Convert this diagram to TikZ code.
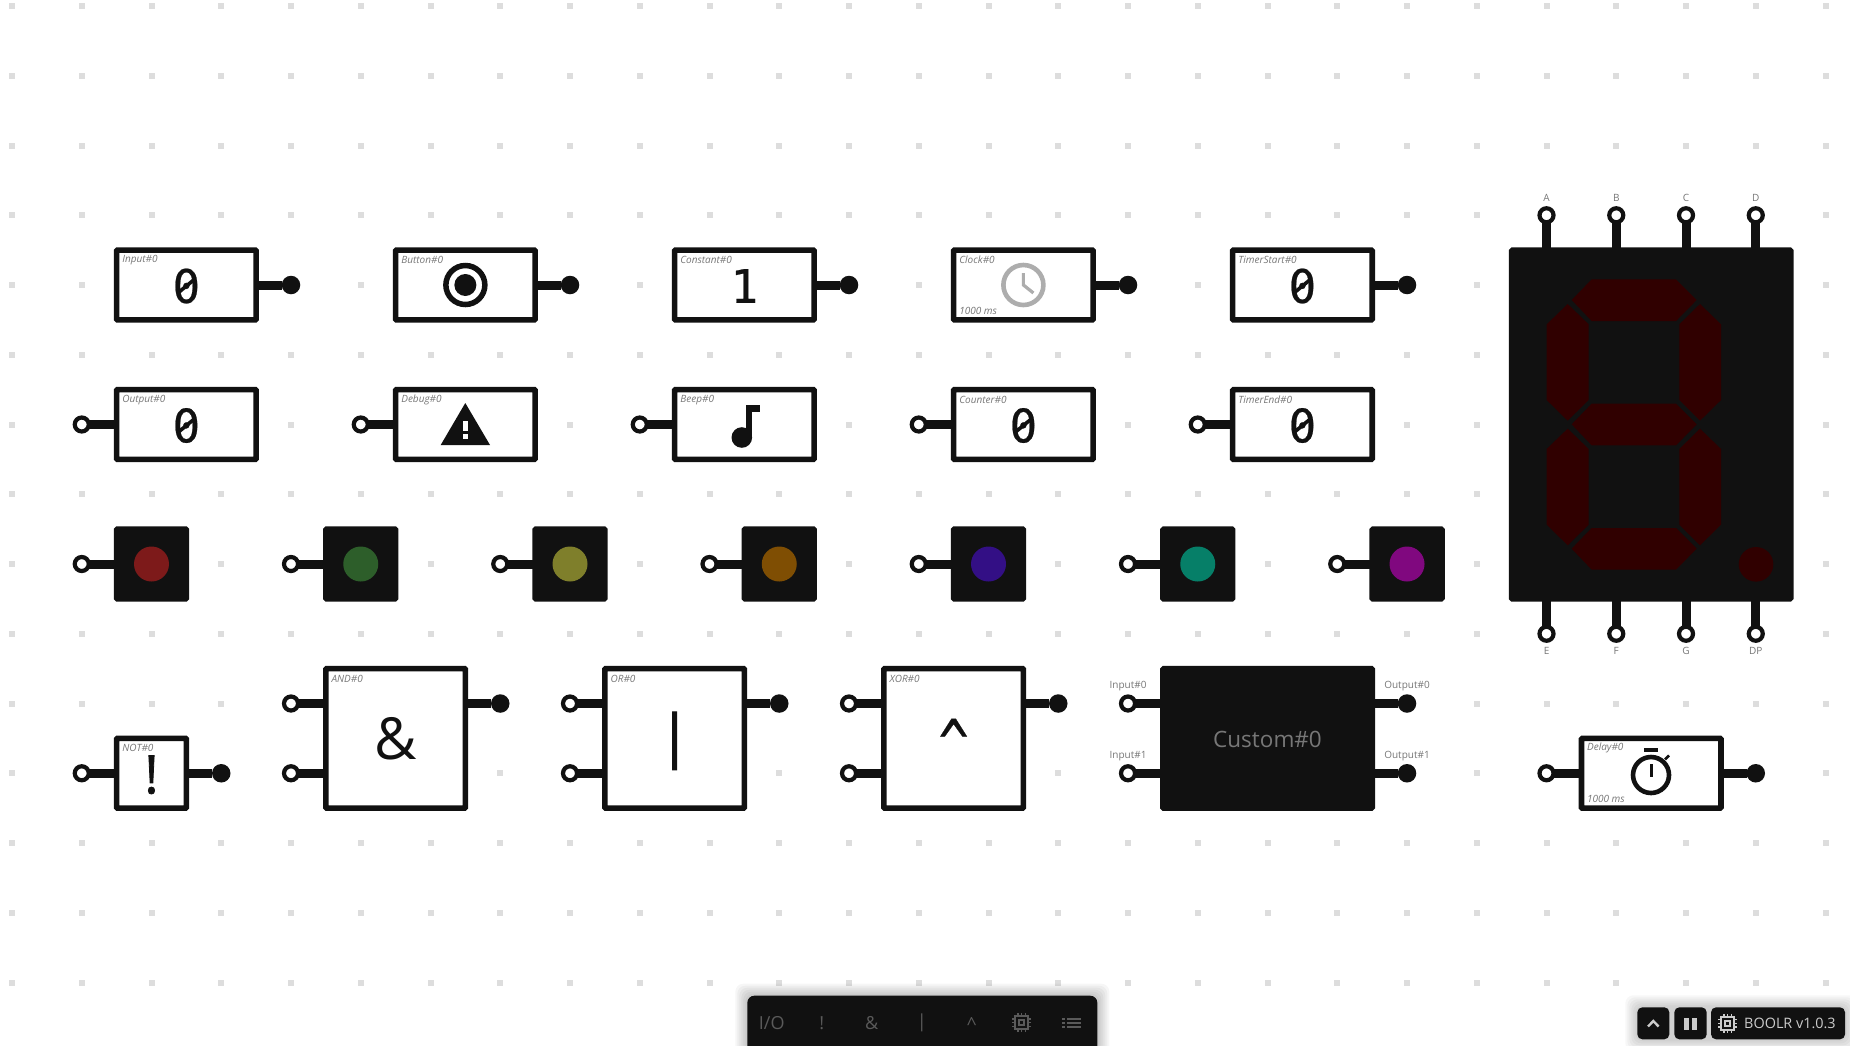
\documentclass[tikz,border=0pt]{standalone}
\usepackage{fontspec}
\usepackage{graphicx}
\setmainfont{Open Sans}
\newfontfamily\monof[FakeBold=0.5]{DejaVu Sans Mono}
\newfontfamily\symf[FakeBold=1.5]{Open Sans}
\usetikzlibrary{calc}
\definecolor{ink}{HTML}{111111}
\definecolor{griddot}{HTML}{DDDDDD}
\definecolor{tagcol}{HTML}{777777}
\definecolor{segcol}{HTML}{300000}
\definecolor{tbcol}{HTML}{5A5A5A}
\definecolor{uicol}{HTML}{CCCCCC}
\tikzset{
  lightbox/.style={draw=ink,fill=white,line width=5.7pt,rounded corners=1pt,inner sep=0pt,outer sep=0pt},
  darkbox/.style={draw=ink,fill=ink,line width=5.7pt,rounded corners=1pt,inner sep=0pt,outer sep=0pt},
  one/.style={minimum width=69.75pt,minimum height=69.75pt},
  twoone/.style={minimum width=139.5pt,minimum height=69.75pt},
  twotwo/.style={minimum width=139.5pt,minimum height=139.5pt},
  pinin/.style={circle,draw=ink,fill=white,line width=4.2pt,minimum size=14pt,inner sep=0pt,outer sep=0pt},
  pinout/.style={circle,fill=ink,minimum size=18.5pt,inner sep=0pt,outer sep=0pt},
  wire/.style={draw=ink,line width=9pt},
  tagtext/.style={text=tagcol,font=\fontsize{10}{12}\selectfont\itshape,inner sep=0pt,anchor=west},
  portlab/.style={text=tagcol,font=\fontsize{10}{12}\selectfont,inner sep=0pt},
  digit/.style={text=ink,font=\fontsize{46}{50}\selectfont\monof,inner sep=0pt},
  bigsym/.style={text=ink,font=\fontsize{58}{60}\selectfont,inner sep=0pt},
  led/.style={circle,minimum size=35pt,inner sep=0pt},
  seg/.style={fill=segcol},
  px/.style={shift={(-12pt,6pt)},x=1pt,y=-1pt},
  tbtext/.style={text=tbcol,font=\fontsize{18}{20}\selectfont,inner sep=0pt},
  uibtn/.style={fill=ink,rounded corners=5pt},
}
\newcommand{\boxtag}[2]{\node[tagtext] (#1-tag) at ([xshift=5.5pt,yshift=-10pt]#1.north west) {#2};}
\newcommand{\slashzero}[3]{\node[digit] (#1) at ([yshift=-1pt]#2) {#3};
  \draw[ink,line width=3.6pt] ([xshift=-8.5pt,yshift=-7pt]#1.center) -- ([xshift=8.5pt,yshift=7pt]#1.center);}
\newcommand{\wirein}[2]{\draw[wire] (#1) -- (#1 -| #2.west);}
\newcommand{\wireout}[2]{\draw[wire] (#1) -- (#1 -| #2.east);}
\newcommand{\chipglyph}[2]{%
  \draw[#2,line width=2pt] (-6.5,-6.5) rectangle (6.5,6.5);
  \draw[#2,line width=1.7pt] (-2.6,-2.6) rectangle (2.6,2.6);
  \foreach \o in {-3.6,0,3.6}{
    \draw[#2,line width=1.5pt] (-9.5,\o) -- (-7,\o);
    \draw[#2,line width=1.5pt] (9.5,\o) -- (7,\o);
    \draw[#2,line width=1.5pt] (\o,-9.5) -- (\o,-7);
    \draw[#2,line width=1.5pt] (\o,9.5) -- (\o,7);
  }}
\begin{document}
\begin{tikzpicture}[x=69.75pt,y=-69.75pt]
\useasboundingbox (-0.172,-0.086) rectangle (26.351,14.896);
\fill[white] (-0.172,-0.086) rectangle (26.351,14.896);
% grid
\foreach \i in {0,...,26}{\foreach \j in {0,...,14}{
  \fill[griddot] ($(\i,\j)+(-3pt,-3pt)$) rectangle ($(\i,\j)+(3pt,3pt)$);
}}
% row 1
\node[lightbox,twoone] (input) at (2.5,4) {};
\node[lightbox,twoone] (button) at (6.5,4) {};
\node[lightbox,twoone] (constant) at (10.5,4) {};
\node[lightbox,twoone] (clock) at (14.5,4) {};
\node[lightbox,twoone] (tstart) at (18.5,4) {};
\node[pinout] (input-o) at (4,4) {};
\node[pinout] (button-o) at (8,4) {};
\node[pinout] (constant-o) at (12,4) {};
\node[pinout] (clock-o) at (16,4) {};
\node[pinout] (tstart-o) at (20,4) {};
\wireout{input-o}{input}\wireout{button-o}{button}\wireout{constant-o}{constant}\wireout{clock-o}{clock}\wireout{tstart-o}{tstart}
\boxtag{input}{Input\#0}\boxtag{button}{Button\#0}\boxtag{constant}{Constant\#0}\boxtag{clock}{Clock\#0}\boxtag{tstart}{TimerStart\#0}
\slashzero{input-v}{2.5,4}{0}
\slashzero{tstart-v}{18.5,4}{0}
\node[digit] (constant-v) at ([yshift=-1pt]10.5,4) {1};
\node[tagtext] (clock-time) at ([xshift=5.5pt,yshift=9pt]clock.south west) {1000 ms};
% button icon
\draw[ink,line width=5.5pt] (button.center) circle (19.5pt);
\fill[ink] (button.center) circle (11pt);
% clock icon
\draw[uicol!85!black,line width=4.6pt] (clock.center) circle (20pt);
\draw[uicol!85!black,line width=3.2pt] ([yshift=12pt]clock.center) -- (clock.center) -- ([xshift=10pt,yshift=-8pt]clock.center);
% row 2
\node[lightbox,twoone] (output) at (2.5,6) {};
\node[lightbox,twoone] (debug) at (6.5,6) {};
\node[lightbox,twoone] (beep) at (10.5,6) {};
\node[lightbox,twoone] (counter) at (14.5,6) {};
\node[lightbox,twoone] (tend) at (18.5,6) {};
\node[pinin] (output-i) at (1,6) {};
\node[pinin] (debug-i) at (5,6) {};
\node[pinin] (beep-i) at (9,6) {};
\node[pinin] (counter-i) at (13,6) {};
\node[pinin] (tend-i) at (17,6) {};
\wirein{output-i}{output}\wirein{debug-i}{debug}\wirein{beep-i}{beep}\wirein{counter-i}{counter}\wirein{tend-i}{tend}
\boxtag{output}{Output\#0}\boxtag{debug}{Debug\#0}\boxtag{beep}{Beep\#0}\boxtag{counter}{Counter\#0}\boxtag{tend}{TimerEnd\#0}
\slashzero{output-v}{2.5,6}{0}
\slashzero{counter-v}{14.5,6}{0}
\slashzero{tend-v}{18.5,6}{0}
\begin{scope}[px]
  % warning icon
  \fill[ink] (465.3,403) -- (490,445) -- (440.7,445) -- cycle;
  \fill[white] (463,420.7) rectangle (467.6,430.5);
  \fill[white] (463,434) rectangle (467.6,438.5);
  % note icon
  \fill[ink] (745.6,405) rectangle (760,411.7);
  \fill[ink] (745.6,405) rectangle (752.3,438);
  \fill[ink] (741.8,437.5) circle (10.3pt);
\end{scope}
% row 3
\foreach \n/\c/\col in {a/2/7D1A1A,b/5/2D5E2A,c/8/7F7F2B,d/11/7F4E03,e/14/330F85,f/17/067F68,g/20/80087F}{
  \definecolor{ledc}{HTML}{\col}
  \node[darkbox,one] (led\n) at (\c,8) {};
  \node[led,fill=ledc] (led\n-l) at (led\n) {};
  \node[pinin] (led\n-i) at ({\c-1},8) {};
  \draw[wire] (led\n-i) -- (led\n-i -| led\n.west);
}
% row 4
\node[lightbox,one] (not) at (2,11) {};
\node[pinin] (not-i) at (1,11) {};
\node[pinout] (not-o) at (3,11) {};
\wirein{not-i}{not}\wireout{not-o}{not}
\boxtag{not}{NOT\#0}
\node[bigsym,font=\fontsize{53}{55}\selectfont\symf] (not-v) at ([yshift=-1.5pt]2,11) {!};
\foreach \nm/\c/\tg in {and/5.5/AND,or/9.5/OR,xor/13.5/XOR}{
  \node[lightbox,twotwo] (\nm) at (\c,10.5) {};
  \node[pinin] (\nm-a) at ({\c-1.5},10) {};
  \node[pinin] (\nm-b) at ({\c-1.5},11) {};
  \node[pinout] (\nm-o) at ({\c+1.5},10) {};
  \draw[wire] (\nm-a) -- (\nm-a -| \nm.west);
  \draw[wire] (\nm-b) -- (\nm-b -| \nm.west);
  \draw[wire] (\nm-o) -- (\nm-o -| \nm.east);
  \node[tagtext] (\nm-tag) at ([xshift=5.5pt,yshift=-10pt]\nm.north west) {\tg\#0};
}
\node[bigsym] (and-v) at (5.5,10.5) {\&};
\node[bigsym,font=\fontsize{58}{60}\selectfont\symf] (or-v) at ([yshift=-2.5pt]9.5,10.5) {|};
\node[bigsym,font=\fontsize{50}{52}\selectfont\monof] (xor-v) at (13.5,10.56) {\scalebox{1}[1.3]{\char94}};
% custom
\node[darkbox,minimum width=209.25pt,minimum height=139.5pt] (custom) at (18,10.5) {};
\node[text=tagcol,font=\fontsize{22.5}{26}\selectfont,inner sep=0pt] (custom-v) at ([yshift=-1pt]18,10.5) {Custom\#0};
\node[pinin] (custom-a) at (16,10) {};
\node[pinin] (custom-b) at (16,11) {};
\node[pinout] (custom-c) at (20,10) {};
\node[pinout] (custom-d) at (20,11) {};
\wirein{custom-a}{custom}\wirein{custom-b}{custom}\wireout{custom-c}{custom}\wireout{custom-d}{custom}
\node[portlab] (custom-la) at ([yshift=17pt]custom-a) {Input\#0};
\node[portlab] (custom-lb) at ([yshift=17pt]custom-b) {Input\#1};
\node[portlab] (custom-lc) at ([yshift=17pt]custom-c) {Output\#0};
\node[portlab] (custom-ld) at ([yshift=17pt]custom-d) {Output\#1};
% delay
\node[lightbox,twoone] (delay) at (23.5,11) {};
\node[pinin] (delay-i) at (22,11) {};
\node[pinout] (delay-o) at (25,11) {};
\wirein{delay-i}{delay}\wireout{delay-o}{delay}
\boxtag{delay}{Delay\#0}
\node[tagtext] (delay-time) at ([xshift=5.5pt,yshift=9pt]delay.south west) {1000 ms};
\begin{scope}[px]
  \draw[ink,line width=4.6pt] (1651,775) circle (18pt);
  \fill[ink] (1644,748) rectangle (1658,752.4);
  \fill[ink] (1649.6,763.5) rectangle (1652.6,777);
  \draw[ink,line width=2.6pt] (1665,759.5) -- (1669,755.5);
\end{scope}
% seven segment
\node[darkbox,minimum width=279pt,minimum height=348.75pt] (seven) at (23.5,6) {};
\foreach \nm/\c/\tx in {a/22/A,b/23/B,c/24/C,d/25/D}{
  \node[pinin] (s\nm) at (\c,3) {};
  \draw[wire] (s\nm) -- (s\nm |- seven.north);
  \node[portlab] (s\nm-l) at ([yshift=17.5pt]s\nm) {\tx};
}
\foreach \nm/\c/\tx in {e/22/E,f/23/F,g/24/G,h/25/DP}{
  \node[pinin] (s\nm) at (\c,9) {};
  \draw[wire] (s\nm) -- (s\nm |- seven.south);
  \node[portlab] (s\nm-l) at ([yshift=-17.5pt]s\nm) {\tx};
}
\begin{scope}[shift={(1468pt,-174pt)},x=0.33333pt,y=-0.33333pt]
  \foreach \d in {0,373,746}{
    \fill[seg] (275,360+\d) -- (335,298+\d) -- (588,298+\d) -- (650,360+\d) -- (588,423+\d) -- (335,423+\d) -- cycle;
  }
  \foreach \d in {0,374}{
    \fill[seg] (200,433+\d) -- (263,372+\d) -- (326,433+\d) -- (326,660+\d) -- (263,722+\d) -- (200,660+\d) -- cycle;
    \fill[seg] (598,433+\d) -- (660,372+\d) -- (723,433+\d) -- (723,660+\d) -- (660,722+\d) -- (598,660+\d) -- cycle;
  }
  \fill[seg] (828,1153) circle (17.3pt);
\end{scope}
% toolbar and status buttons
\begin{scope}[px]
  \clip (0,0) rectangle (1850,1045);
  \foreach \s in {12,10,8,6,4,2}{
    \fill[black,opacity=0.035,rounded corners=8pt] (747.3-\s,995.7-\s) rectangle (1097.3+\s,1060);
    \fill[black,opacity=0.03,rounded corners=8pt] (1637.3-\s,1007.3-\s) rectangle (1845+\s,1039.3+\s);
  }
  \fill[ink,rounded corners=7pt] (747.3,995.7) rectangle (1097.3,1060);
  \fill[uibtn] (1637.3,1007.3) rectangle (1669.3,1039.3);
  \fill[uibtn] (1674.3,1007.3) rectangle (1706.7,1039.3);
  \fill[uibtn] (1711,1007.3) rectangle (1845,1039.3);
  \node[tbtext] (tb-io) at (771.7,1022.7) {I/O};
  \node[tbtext] (tb-not) at (821.7,1022.7) {!};
  \node[tbtext] (tb-and) at (871.7,1022.7) {\&};
  \node[tbtext] (tb-or) at (921.7,1022.7) {|};
  \node[tbtext] (tb-xor) at (971.7,1024) {\char94};
  \begin{scope}[shift={(1021.7,1022.7)}]\chipglyph{}{tbcol}\end{scope}
  \foreach \o in {-4,0,4}{
    \fill[tbcol] (1062.3,1022.7+\o-1.1) rectangle (1065,1022.7+\o+1.1);
    \fill[tbcol] (1067.3,1022.7+\o-1.1) rectangle (1080.7,1022.7+\o+1.1);
  }
  \draw[uicol,line width=2.4pt] (1648,1026.5) -- (1653.3,1021) -- (1658.6,1026.5);
  \fill[uicol] (1684,1017.7) rectangle (1688.7,1030);
  \fill[uicol] (1692,1017.7) rectangle (1696.7,1030);
  \begin{scope}[shift={(1727.7,1023.3)}]\chipglyph{}{uicol}\end{scope}
  \node[text=uicol,font=\fontsize{14.4}{16}\selectfont,inner sep=0pt,anchor=west] (tb-ver) at (1744,1023.3) {BOOLR v1.0.3};
\end{scope}
\end{tikzpicture}
\end{document}
